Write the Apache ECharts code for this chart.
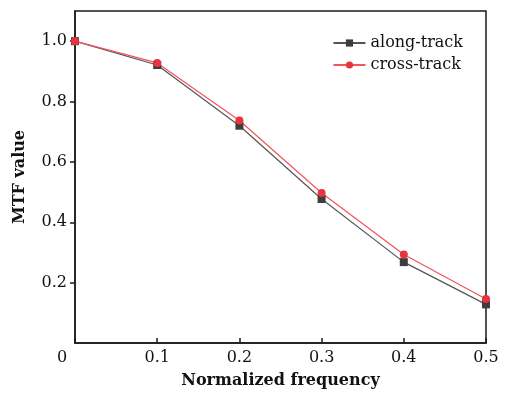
<!DOCTYPE html>
<html>
<head>
<meta charset="utf-8">
<script src="https://cdn.jsdelivr.net/npm/echarts@6/dist/echarts.min.js"></script>
<style>
  html, body { margin: 0; padding: 0; background: #fff; }
  #chart { width: 508px; height: 397px; }
</style>
</head>
<body>
<div id="chart"></div>
<script>
// 归一化频率
const freq = [0, 0.1, 0.2, 0.3, 0.4, 0.5];
// 沿轨 / 垂轨 MTF
const alongTrack = [1.0, 0.921, 0.72, 0.477, 0.268, 0.128];
const crossTrack = [1.0, 0.928, 0.737, 0.497, 0.293, 0.146];
// y 轴刻度
const yTicks = [0.2, 0.4, 0.6, 0.8, 1.0];

const FONT = "DejaVu Serif";

const chart = echarts.init(document.getElementById("chart"));

const option = {
  animation: false,
  grid: {
    left: 75,
    right: 22,
    top: 11,
    bottom: 54,
    show: true,
    borderColor: "#1a1a1a",
    borderWidth: 1.5
  },
  legend: {
    right: 40,
    top: 30,
    orient: "vertical",
    itemWidth: 32,
    itemHeight: 9,
    itemGap: 6,
    textStyle: { fontFamily: FONT, fontSize: 16, color: "#111" },
    data: ["along-track", "cross-track"]
  },
  xAxis: {
    type: "value",
    min: 0,
    max: 0.5,
    interval: 0.1,
    name: "Normalized frequency",
    nameLocation: "middle",
    nameGap: 30,
    nameTextStyle: { fontFamily: FONT, fontSize: 16, fontWeight: "bold", color: "#111" },
    axisLine: { lineStyle: { color: "#1a1a1a", width: 1.5 } },
    axisTick: { inside: true, length: 5, lineStyle: { color: "#1a1a1a", width: 1.5 } },
    splitLine: { show: false },
    axisLabel: {
      fontFamily: FONT,
      fontSize: 16,
      color: "#111",
      margin: 7,
      formatter: function (v) {
        if (v === 0) return "{o|0}";
        return v.toFixed(1);
      },
      rich: {
        o: { fontFamily: FONT, fontSize: 16, color: "#111", padding: [0, 26, 0, 0] }
      }
    }
  },
  yAxis: {
    type: "value",
    min: 0,
    max: 1.1,
    interval: 0.2,
    name: "MTF value",
    nameLocation: "middle",
    nameGap: 47,
    nameTextStyle: { fontFamily: FONT, fontSize: 16, fontWeight: "bold", color: "#111" },
    axisLine: { lineStyle: { color: "#1a1a1a", width: 1.5 } },
    axisTick: {
      inside: false,
      length: 5,
      customValues: yTicks,
      lineStyle: { color: "#1a1a1a", width: 1.5 }
    },
    splitLine: { show: false },
    axisLabel: {
      fontFamily: FONT,
      fontSize: 16,
      color: "#111",
      margin: 8,
      customValues: yTicks,
      formatter: function (v) {
        return v.toFixed(1);
      }
    }
  },
  series: [
    {
      name: "along-track",
      type: "line",
      data: freq.map((f, i) => [f, alongTrack[i]]),
      symbol: "rect",
      symbolSize: 8,
      itemStyle: { color: "#3d3d3d" },
      lineStyle: { color: "#555", width: 1.2 }
    },
    {
      name: "cross-track",
      type: "line",
      data: freq.map((f, i) => [f, crossTrack[i]]),
      symbol: "circle",
      symbolSize: 8,
      itemStyle: { color: "#e8343f" },
      lineStyle: { color: "#f0545c", width: 1.2 }
    }
  ]
};

chart.setOption(option);
</script>
</body>
</html>
